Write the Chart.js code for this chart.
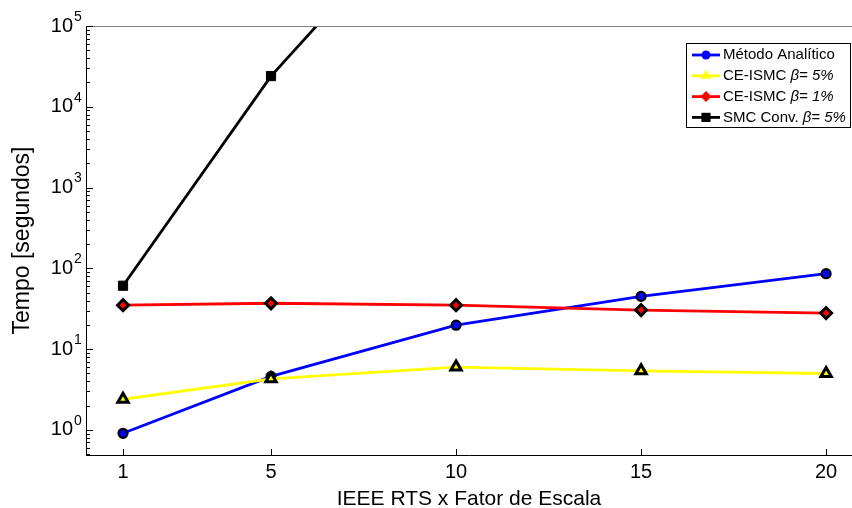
<!DOCTYPE html>
<html>
<head>
<meta charset="utf-8">
<script src="https://cdn.jsdelivr.net/npm/chart.js@4.4.0/dist/chart.umd.min.js"></script>
<style>
html, body { margin: 0; padding: 0; background: #fff; overflow: hidden; }
#wrap { width: 852px; height: 508px; }
</style>
</head>
<body>
<div id="wrap"><canvas id="myChart" width="852" height="508"></canvas></div>
<script>
const xValues = [1, 5, 10, 15, 20];
const xTicks = [1, 5, 10, 15, 20];
const yTicks = [1, 10, 100, 1000, 10000, 100000];
const analitico = [0.91, 4.6, 19.8, 45, 86];
const ceIsmc5 = [2.4, 4.3, 6.0, 5.4, 5.0];
const ceIsmc1 = [35, 37, 35, 30.5, 28];
const smcConv = [61, 24000, 8000000, null, null];

const fontName = "'Liberation Sans', Arial, Helvetica, sans-serif";

function toPoints(values){
    let pts = new Array;
    for ( let i = 0 ; i < xValues.length ; i++){
        if ( values[i] !== null ) pts.push({x: xValues[i], y: values[i]});
    }
    return pts;
}

const legendItems = [
    {parts: [['Método Analítico', false]], ds: 0},
    {parts: [['CE-ISMC ', false], ['β= 5%', true]], ds: 1},
    {parts: [['CE-ISMC ', false], ['β= 1%', true]], ds: 2},
    {parts: [['SMC Conv. ', false], ['β= 5%', true]], ds: 3}
];

const axisPlugin = {
    id: 'axisPlugin',
    afterDraw(chart){
        const ctx = chart.ctx;
        const area = chart.chartArea;
        const xs = chart.scales.x;
        const ys = chart.scales.y;
        ctx.save();
        // top box line
        ctx.strokeStyle = '#808080';
        ctx.lineWidth = 1;
        ctx.beginPath();
        ctx.moveTo(area.left, area.top + 0.5);
        ctx.lineTo(area.right, area.top + 0.5);
        ctx.stroke();
        // ticks inside the axes
        ctx.strokeStyle = '#000';
        ctx.beginPath();
        for ( let d = 0.1 ; d <= 100000 ; d *= 10 ){
            for ( let k = 1 ; k <= 9 ; k++ ){
                const v = d * k;
                if ( v < ys.min || v > ys.max ) continue;
                const py = Math.round(ys.getPixelForValue(v)) + 0.5;
                const len = (k === 1) ? 7 : 4;
                ctx.moveTo(area.left, py);
                ctx.lineTo(area.left + len, py);
            }
        }
        xTicks.forEach(v => {
            const px = Math.round(xs.getPixelForValue(v)) + 0.5;
            ctx.moveTo(px, area.bottom);
            ctx.lineTo(px, area.bottom - 6);
        });
        ctx.stroke();
        // y tick labels 10^n
        ctx.fillStyle = '#000';
        ctx.textBaseline = 'middle';
        yTicks.forEach(v => {
            const py = ys.getPixelForValue(v);
            const exp = Math.round(Math.log10(v));
            ctx.font = '20px ' + fontName;
            ctx.textAlign = 'right';
            ctx.fillText('10', 73, py);
            ctx.font = '14px ' + fontName;
            ctx.textAlign = 'left';
            ctx.fillText(String(exp), 74, py - 9);
        });
        // legend
        const bx = 686.5, by = 43.5, bw = 164, bh = 84;
        ctx.fillStyle = '#fff';
        ctx.fillRect(bx, by, bw, bh);
        ctx.strokeStyle = '#000';
        ctx.lineWidth = 1;
        ctx.strokeRect(bx, by, bw, bh);
        legendItems.forEach((item, i) => {
            const ds = chart.data.datasets[item.ds];
            const cy = 55 + i * 20.8;
            ctx.strokeStyle = ds.borderColor;
            ctx.lineWidth = ds.borderWidth;
            ctx.beginPath();
            ctx.moveTo(692, cy);
            ctx.lineTo(720, cy);
            ctx.stroke();
            ctx.fillStyle = ds.pointBackgroundColor;
            ctx.strokeStyle = ds.pointBorderColor;
            ctx.lineWidth = ds.pointBorderWidth;
            Chart.helpers.drawPoint(ctx, {pointStyle: ds.pointStyle, radius: ds.pointRadius, rotation: 0}, 706, cy);
            let tx = 723;
            ctx.fillStyle = '#000';
            ctx.textAlign = 'left';
            ctx.textBaseline = 'middle';
            item.parts.forEach(p => {
                ctx.font = (p[1] ? 'italic ' : '') + '15px ' + fontName;
                ctx.fillText(p[0], tx, cy);
                tx += ctx.measureText(p[0]).width;
            });
        });
        ctx.restore();
    }
};

const data = {
    datasets: [
        {
            label: 'Método Analítico',
            data: toPoints(analitico),
            borderColor: '#0000ff',
            borderWidth: 2.8,
            pointStyle: 'circle',
            pointRadius: 4.5,
            pointBackgroundColor: '#0000ff',
            pointBorderColor: '#000',
            pointBorderWidth: 2.2,
            order: 4
        },
        {
            label: 'CE-ISMC β= 5%',
            data: toPoints(ceIsmc5),
            borderColor: '#ffff00',
            borderWidth: 2.8,
            pointStyle: 'triangle',
            pointRadius: 6,
            pointBackgroundColor: '#ffff00',
            pointBorderColor: '#000',
            pointBorderWidth: 3,
            order: 3
        },
        {
            label: 'CE-ISMC β= 1%',
            data: toPoints(ceIsmc1),
            borderColor: '#ff0000',
            borderWidth: 2.8,
            pointStyle: 'rectRot',
            pointRadius: 5.5,
            pointBackgroundColor: '#ff0000',
            pointBorderColor: '#000',
            pointBorderWidth: 3,
            order: 2
        },
        {
            label: 'SMC Conv. β= 5%',
            data: toPoints(smcConv),
            borderColor: '#000000',
            borderWidth: 2.8,
            pointStyle: 'rect',
            pointRadius: 6.5,
            pointBackgroundColor: '#000',
            pointBorderColor: '#000',
            pointBorderWidth: 1,
            order: 1
        }
    ]
};

new Chart('myChart', {
    type: 'line',
    data: data,
    plugins: [axisPlugin],
    options: {
        responsive: false,
        animation: false,
        devicePixelRatio: 1,
        layout: { autoPadding: false, padding: { top: 26, right: 0, left: 0, bottom: 0 } },
        plugins: {
            legend: { display: false },
            tooltip: { enabled: false }
        },
        scales: {
            x: {
                type: 'linear',
                min: 0,
                max: 20.7,
                afterBuildTicks: function(scale){ scale.ticks = xTicks.map(v => ({value: v})); },
                afterFit: function(scale){ scale.height = 53; },
                grid: { display: false, drawTicks: false },
                border: { display: true, color: '#000', width: 1 },
                ticks: { color: '#000', font: { family: fontName, size: 20 }, padding: 5, maxRotation: 0, autoSkip: false },
                title: {
                    display: true,
                    text: 'IEEE RTS x Fator de Escala',
                    color: '#000',
                    font: { family: fontName, size: 21, lineHeight: 0.8 },
                    padding: { top: 0, bottom: 0 }
                }
            },
            y: {
                type: 'logarithmic',
                min: 0.49,
                max: 100000,
                afterBuildTicks: function(scale){ scale.ticks = yTicks.map(v => ({value: v})); },
                afterFit: function(scale){ scale.width = 86; },
                grid: { display: false, drawTicks: false },
                border: { display: true, color: '#000', width: 1 },
                ticks: { display: false },
                title: {
                    display: true,
                    text: 'Tempo [segundos]',
                    color: '#000',
                    font: { family: fontName, size: 23, lineHeight: 1 },
                    padding: { top: 11, bottom: 0 }
                }
            }
        }
    }
});
</script>
</body>
</html>
